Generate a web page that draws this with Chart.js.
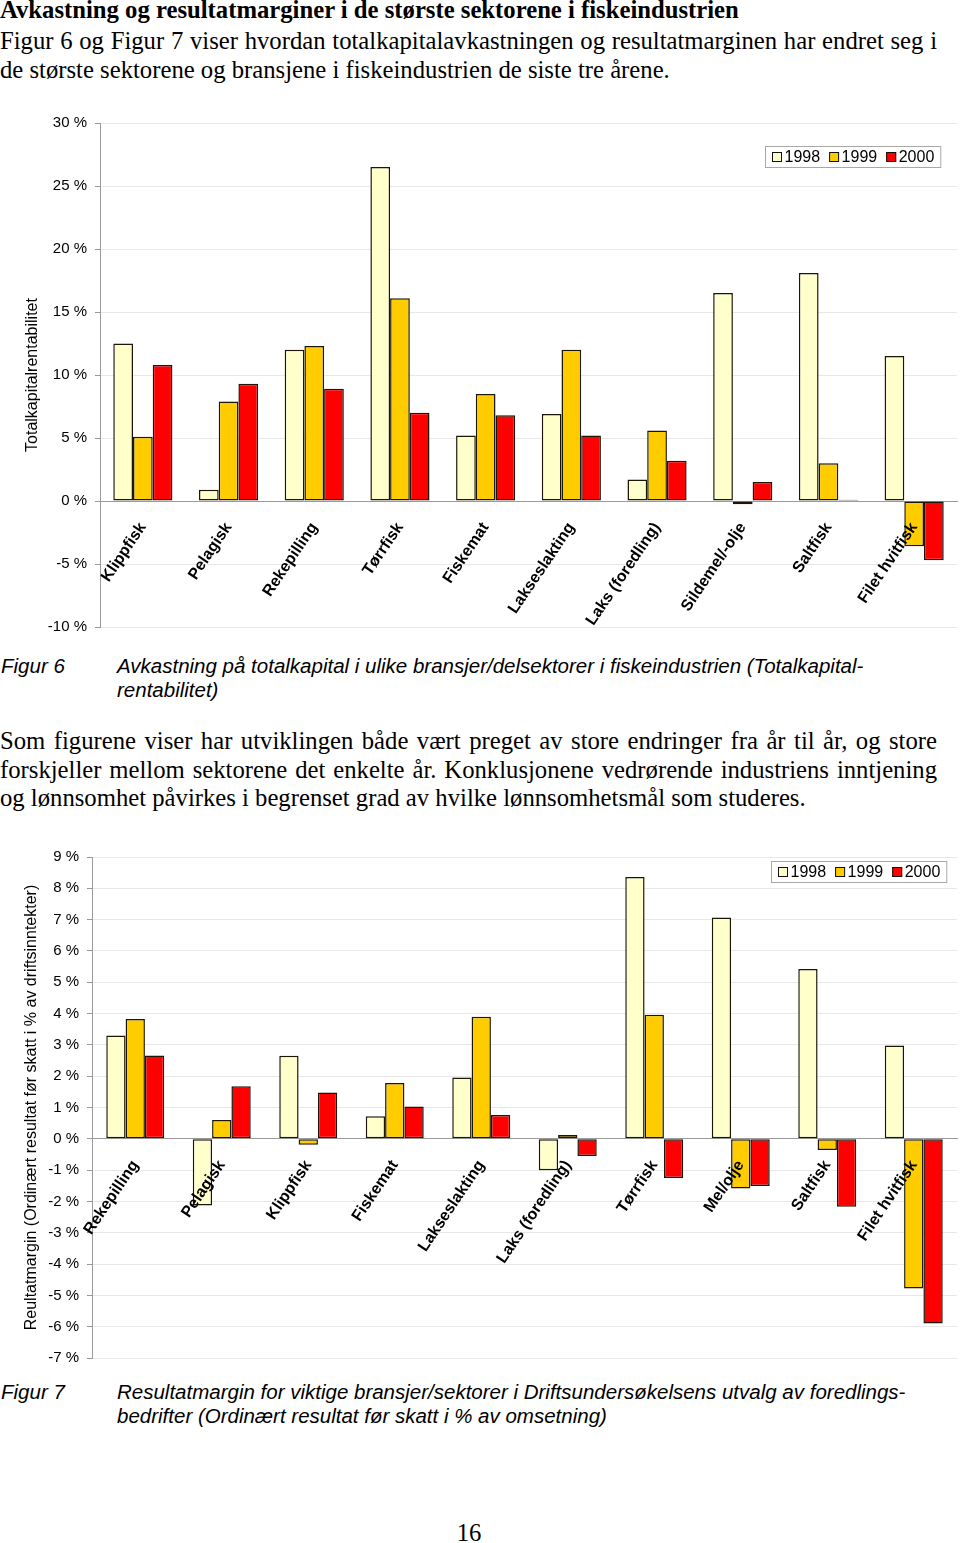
<!DOCTYPE html>
<html>
<head>
<meta charset="utf-8">
<script src="https://cdn.jsdelivr.net/npm/chart.js@4.4.0/dist/chart.umd.min.js"></script>
<style>
  body { margin: 0; background: #fff; width: 960px; height: 1543px; position: relative; overflow: hidden; }
  .serif { position: absolute; left: 0; width: 937px; font-family: "Liberation Serif", "Times New Roman", serif; font-size: 24.7px; line-height: 28.5px; color: #000; }
  .serif div { white-space: nowrap; }
  .serif .j { text-align: justify; text-align-last: justify; }
  .title { font-weight: bold; line-height: 28px; }
  .cap { position: absolute; left: 0; width: 960px; font-family: "Liberation Sans", Arial, sans-serif; font-style: italic; font-size: 20.5px; line-height: 24px; color: #000; }
  .cap .lbl { position: absolute; left: 1px; top: 0; white-space: nowrap; }
  .cap .txt { position: absolute; left: 117px; top: 0; white-space: nowrap; }
  .box { position: absolute; left: 0; }
  .pageno { position: absolute; left: 0; width: 938px; text-align: center; font-family: "Liberation Serif", "Times New Roman", serif; font-size: 24.7px; line-height: 28px; }
</style>
</head>
<body>
<div class="serif title" style="top:-4px">Avkastning og resultatmarginer i de største sektorene i fiskeindustrien</div>
<div class="serif" style="top:27px">
  <div class="j">Figur 6 og Figur 7 viser hvordan totalkapitalavkastningen og resultatmarginen har endret seg i</div>
  <div>de største sektorene og bransjene i fiskeindustrien de siste tre årene.</div>
</div>

<div class="box" style="top:100px"><canvas id="chart1" width="960" height="545"></canvas></div>

<div class="cap" style="top:654px">
  <span class="lbl">Figur 6</span>
  <span class="txt">Avkastning på totalkapital i ulike bransjer/delsektorer i fiskeindustrien (Totalkapital-<br>rentabilitet)</span>
</div>

<div class="serif" style="top:727px">
  <div class="j">Som figurene viser har utviklingen både vært preget av store endringer fra år til år, og store</div>
  <div class="j">forskjeller mellom sektorene det enkelte år. Konklusjonene vedrørende industriens inntjening</div>
  <div>og lønnsomhet påvirkes i begrenset grad av hvilke lønnsomhetsmål som studeres.</div>
</div>

<div class="box" style="top:840px"><canvas id="chart2" width="960" height="535"></canvas></div>

<div class="cap" style="top:1380px">
  <span class="lbl">Figur 7</span>
  <span class="txt">Resultatmargin for viktige bransjer/sektorer i Driftsundersøkelsens utvalg av foredlings-<br>bedrifter (Ordinært resultat før skatt i % av omsetning)</span>
</div>

<div class="pageno" style="top:1519px">16</div>

<script>
"use strict";

// Figur 6: Totalkapitalrentabilitet (%)
var sectors1 = ["Klippfisk", "Pelagisk", "Rekepilling", "Tørrfisk", "Fiskemat", "Lakseslakting",
  "Laks (foredling)", "Sildemel/-olje", "Saltfisk", "Filet hvitfisk"];
var rent1998 = [12.5, 0.9, 12.0, 26.5, 5.2, 6.9, 1.7, 16.5, 18.1, 11.5];
var rent1999 = [5.1, 7.9, 12.3, 16.1, 8.5, 12.0, 5.6, -0.25, 3.0, -3.6];
var rent2000 = [10.8, 9.3, 8.9, 7.0, 6.8, 5.2, 3.2, 1.5, 0.1, -4.7];

// Figur 7: Resultatmargin (%)
var sectors2 = ["Rekepilling", "Pelagisk", "Klippfisk", "Fiskemat", "Lakseslakting",
  "Laks (foredling)", "Tørrfisk", "Mel/olje", "Saltfisk", "Filet hvitfisk"];
var margin1998 = [3.3, -2.13, 2.65, 0.72, 1.96, -1.0, 8.36, 7.07, 5.42, 2.98];
var margin1999 = [3.83, 0.6, -0.19, 1.78, 3.9, 0.12, 3.96, -1.59, -0.36, -4.78];
var margin2000 = [2.66, 1.68, 1.48, 1.03, 0.76, -0.55, -1.25, -1.51, -2.17, -5.9];

var years = ["1998", "1999", "2000"];
var yearColors = ["#FFFFCC", "#FFCC00", "#FF0000"];

Chart.defaults.font.family = "'Liberation Sans', Arial, sans-serif";
Chart.defaults.color = "#000";

// legend in a thin grey frame, placed inside the plot area (top right)
var boxLegend = {
  id: "boxLegend",
  afterDraw: function(chart, args, opts) {
    var ctx = chart.ctx;
    var area = chart.chartArea;
    var sw = 10, gap = 2.5, itemGap = 9, pad = 7, h = 22;
    ctx.save();
    ctx.font = "16px 'Liberation Sans', Arial, sans-serif";
    var widths = chart.data.datasets.map(function(ds) {
      return ctx.measureText(ds.label).width;
    });
    var total = pad * 2 + itemGap * (widths.length - 1);
    widths.forEach(function(w) { total += sw + gap + w; });
    var x = Math.round(area.right - opts.right - total);
    var y = Math.round(area.top + opts.top);
    ctx.fillStyle = "#fff";
    ctx.fillRect(x, y, total, h);
    ctx.strokeStyle = "#a8a8a8";
    ctx.lineWidth = 1;
    ctx.strokeRect(x + 0.5, y + 0.5, total - 1, h - 1);
    var cx = x + pad;
    chart.data.datasets.forEach(function(ds, i) {
      ctx.fillStyle = ds.backgroundColor;
      ctx.fillRect(cx, y + 6, sw, sw);
      ctx.strokeStyle = "#111";
      ctx.strokeRect(cx + 0.5, y + 6.5, sw - 1, sw - 1);
      cx += sw + gap;
      ctx.fillStyle = "#000";
      ctx.textBaseline = "middle";
      ctx.fillText(ds.label, cx, y + h / 2 + 1);
      cx += widths[i] + itemGap;
    });
    ctx.restore();
  }
};

function makeChart(canvasId, labels, series, cfg) {
  var datasets = series.map(function(values, i) {
    return {
      label: years[i],
      data: values,
      backgroundColor: yearColors[i],
      borderColor: "#1c1608",
      borderWidth: 1.5,
      borderSkipped: false,
      categoryPercentage: cfg.groupWidth,
      barPercentage: 1
    };
  });

  return new Chart(document.getElementById(canvasId), {
    type: "bar",
    data: { labels: labels, datasets: datasets },
    plugins: [boxLegend],
    options: {
      responsive: false,
      animation: false,
      layout: { padding: { left: 0, right: 3, top: cfg.padTop, bottom: cfg.padBottom } },
      plugins: {
        legend: { display: false },
        tooltip: { enabled: false },
        boxLegend: cfg.legend
      },
      scales: {
        x: {
          type: "category",
          position: { y: 0 },
          grid: { display: false },
          border: { display: true, color: "#9a9a9a", width: 1 },
          ticks: {
            autoSkip: false,
            minRotation: 56,
            maxRotation: 56,
            padding: 10,
            z: 1,
            color: "#000",
            font: { size: 16, weight: "bold" }
          },
          afterFit: function(scale) {
            scale.height = 0;
            scale.paddingLeft = 0;
            scale.paddingRight = 0;
          }
        },
        y: {
          min: cfg.min,
          max: cfg.max,
          position: "left",
          grid: { color: "#e8e8e8", tickColor: "#9a9a9a", tickLength: 5 },
          border: { color: "#9a9a9a" },
          ticks: {
            stepSize: cfg.step,
            padding: 8,
            color: "#000",
            font: { size: 15 },
            callback: function(v) { return v + " %"; }
          },
          title: {
            display: true,
            text: cfg.axisTitle,
            color: "#000",
            font: { size: 16 },
            padding: { top: cfg.titlePad, bottom: 0 }
          },
          afterFit: function(scale) {
            scale.width = cfg.axisWidth;
          }
        }
      }
    }
  });
}

makeChart("chart1", sectors1, [rent1998, rent1999, rent2000], {
  groupWidth: 0.69,
  padTop: 23,
  padBottom: 18,
  min: -10,
  max: 30,
  step: 5,
  axisWidth: 100,
  titlePad: 22.5,
  axisTitle: "Totalkapitalrentabilitet",
  legend: { right: 16, top: 23 }
});

makeChart("chart2", sectors2, [margin1998, margin1999, margin2000], {
  groupWidth: 0.67,
  padTop: 17,
  padBottom: 15,
  min: -7,
  max: 9,
  step: 1,
  axisWidth: 92,
  titlePad: 21.5,
  axisTitle: "Reultatmargin (Ordinært resultat før skatt i % av driftsinntekter)",
  legend: { right: 10, top: 4 }
});
</script>
</body>
</html>
